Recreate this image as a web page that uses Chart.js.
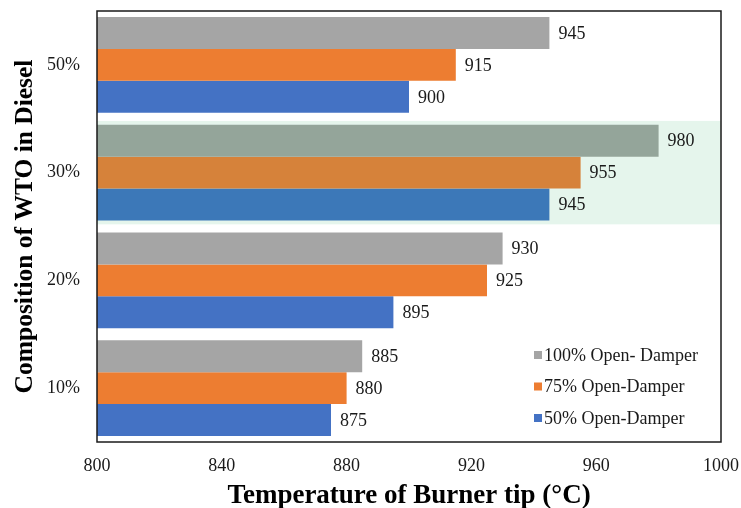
<!DOCTYPE html>
<html>
<head>
<meta charset="utf-8">
<script src="https://cdn.jsdelivr.net/npm/chart.js@4/dist/chart.umd.min.js"></script>
<style>
  html, body { margin: 0; padding: 0; background: #fff; }
  canvas { display: block; }
</style>
</head>
<body>
<canvas id="c" width="741" height="508"></canvas>
<script>
// Burner tip temperature by WTO share in diesel, for three damper openings
const categories = ['50%', '30%', '20%', '10%'];
const seriesNames = ['100% Open- Damper', '75% Open-Damper', '50% Open-Damper'];
const open100 = [945, 980, 930, 885];
const open75 = [915, 955, 925, 880];
const open50 = [900, 945, 895, 875];
const xTicks = [800, 840, 880, 920, 960, 1000];
const highlighted = '30%';

const SERIF = '"Liberation Serif", "Times New Roman", serif';
const baseColors = ['#a5a5a5', '#ed7d31', '#4472c4'];
const tintColors = ['#94a59a', '#d6823a', '#3c78b8'];
const bandColor = '#e5f5ec';

function barColors(i) {
  return categories.map(c => c === highlighted ? tintColors[i] : baseColors[i]);
}

const seriesValues = [open100, open75, open50];
const datasets = seriesValues.map((vals, i) => ({
  label: seriesNames[i],
  data: vals,
  backgroundColor: barColors(i),
  borderWidth: 0,
  categoryPercentage: 0.89,
  barPercentage: 1.0
}));

// light band behind the highlighted category
const bandPlugin = {
  id: 'band',
  beforeDatasetsDraw(chart) {
    const { ctx, chartArea, scales } = chart;
    const idx = categories.indexOf(highlighted);
    if (idx < 0) return;
    const cy = scales.y.getPixelForValue(idx);
    const h = chartArea.height / categories.length * 0.96;
    ctx.save();
    ctx.fillStyle = bandColor;
    ctx.fillRect(chartArea.left, cy - h / 2, chartArea.right - chartArea.left, h);
    ctx.restore();
  }
};

// value next to the end of each bar
const valueLabels = {
  id: 'valueLabels',
  afterDatasetsDraw(chart) {
    const { ctx } = chart;
    ctx.save();
    ctx.font = '18px ' + SERIF;
    ctx.fillStyle = '#1a1a1a';
    ctx.textAlign = 'left';
    ctx.textBaseline = 'middle';
    chart.data.datasets.forEach((ds, di) => {
      chart.getDatasetMeta(di).data.forEach((el, i) => {
        ctx.fillText(String(ds.data[i]), el.x + 9, el.y + 1);
      });
    });
    ctx.restore();
  }
};

// plot frame and the legend inside the lower right corner
const framePlugin = {
  id: 'frame',
  afterDraw(chart) {
    const { ctx, chartArea } = chart;
    ctx.save();
    ctx.strokeStyle = '#1a1a1a';
    ctx.lineWidth = 1.5;
    ctx.strokeRect(chartArea.left, chartArea.top, chartArea.right - chartArea.left, chartArea.bottom - chartArea.top);

    ctx.font = '18px ' + SERIF;
    ctx.textAlign = 'left';
    ctx.textBaseline = 'middle';
    const x0 = chartArea.left + 437;
    const y0 = chartArea.bottom - 87;
    chart.data.datasets.forEach((ds, i) => {
      const y = y0 + i * 31.5;
      ctx.fillStyle = baseColors[i];
      ctx.fillRect(x0, y - 4, 8, 8);
      ctx.fillStyle = '#1a1a1a';
      ctx.fillText(ds.label, x0 + 10, y + 1);
    });
    ctx.restore();
  }
};

new Chart(document.getElementById('c'), {
  type: 'bar',
  data: { labels: categories, datasets },
  options: {
    indexAxis: 'y',
    responsive: false,
    animation: false,
    layout: { padding: { top: 11, right: 20, left: 0, bottom: 0 } },
    plugins: {
      legend: { display: false },
      tooltip: { enabled: false }
    },
    scales: {
      x: {
        min: xTicks[0],
        max: xTicks[xTicks.length - 1],
        afterBuildTicks(scale) { scale.ticks = xTicks.map(v => ({ value: v })); },
        afterFit(scale) {
          scale.height = 66;
          scale.paddingLeft = 0;
          scale.paddingRight = 0;
        },
        grid: { display: false, drawTicks: false },
        border: { display: false },
        ticks: {
          color: '#1a1a1a',
          padding: 13,
          font: { family: SERIF, size: 18 },
          callback: v => String(v)
        },
        title: {
          display: true,
          text: 'Temperature of Burner tip (°C)',
          color: '#000',
          padding: { top: 0, bottom: 0 },
          font: { family: SERIF, size: 27, weight: 'bold', lineHeight: 0.9 }
        }
      },
      y: {
        afterFit(scale) {
          scale.width = 97;
          scale.paddingTop = 0;
          scale.paddingBottom = 0;
        },
        grid: { display: false, drawTicks: false },
        border: { display: false },
        ticks: { color: '#1a1a1a', padding: 17, font: { family: SERIF, size: 18 } },
        title: {
          display: true,
          text: 'Composition of WTO in Diesel',
          color: '#000',
          padding: { top: 14, bottom: 0 },
          font: { family: SERIF, size: 25.5, weight: 'bold', lineHeight: 0.9 }
        }
      }
    }
  },
  plugins: [bandPlugin, valueLabels, framePlugin]
});
</script>
</body>
</html>
